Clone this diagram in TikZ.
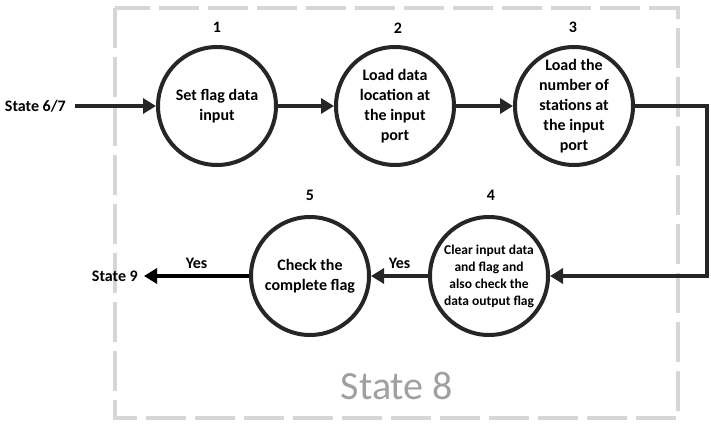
\documentclass[tikz,border=0pt]{standalone}
\usepackage{fontspec}
\setmainfont{Carlito}
\usetikzlibrary{arrows.meta}
\definecolor{boxgray}{RGB}{214,214,214}
\definecolor{txtgray}{RGB}{160,160,160}
\begin{document}
\begin{tikzpicture}[x=1pt,y=-1pt,
  proc/.style={circle,draw=black!85,line width=4pt,minimum size=118pt,inner sep=0pt,align=center,font=\bfseries\fontsize{16}{20}\selectfont},
  lbl/.style={font=\bfseries\fontsize{16}{20}\selectfont,inner sep=1pt},
  conn/.style={line width=4pt,draw=black!85,-{Triangle[length=13pt,width=15pt]}}]
\useasboundingbox (0,0) rectangle (711,425);
\draw[boxgray,line width=4pt,dash pattern=on 40pt off 9pt] (115,8) rectangle (678,418);
\node[font=\fontsize{40}{44}\selectfont,text=txtgray] (s8) at (397,386) {State 8};
\node[proc] (n1) at (217,106) {Set flag data\\input};
\node[proc] (n2) at (395,106) {Load data\\location at\\the input\\port};
\node[proc] (n3) at (574,106) {Load the\\number of\\stations at\\the input\\port};
\node[proc,font=\bfseries\fontsize{13.5}{17}\selectfont] (n4) at (489,276) {Clear input data\\and flag and\\also check the\\data output flag};
\node[proc] (n5) at (310,276) {Check the\\complete flag};
\node[lbl] (l1) at (217,27) {1};
\node[lbl] (l2) at (398,28) {2};
\node[lbl] (l3) at (573,27) {3};
\node[lbl] (l4) at (491,195) {4};
\node[lbl] (l5) at (310,195) {5};
\node[lbl,anchor=east] (s67) at (67,106) {State 6/7};
\node[lbl,anchor=east] (s9) at (139,276) {State 9};
\coordinate (a0) at (75,106);
\coordinate (a9) at (144,276);
\coordinate (c1) at (707,106);
\coordinate (c2) at (707,276);
\draw[conn] (a0) -- (n1.west);
\draw[conn] (n1) -- (n2);
\draw[conn] (n2) -- (n3);
\draw[conn] (n3.east) -- (c1) -- (c2) -- (n4.east);
\draw[conn] (n4) -- node[lbl,above=4pt] (y1) {Yes} (n5);
\draw[conn,draw=black] (n5.west) -- node[lbl,above=4pt] (y2) {Yes} (a9);
\end{tikzpicture}
\end{document}
